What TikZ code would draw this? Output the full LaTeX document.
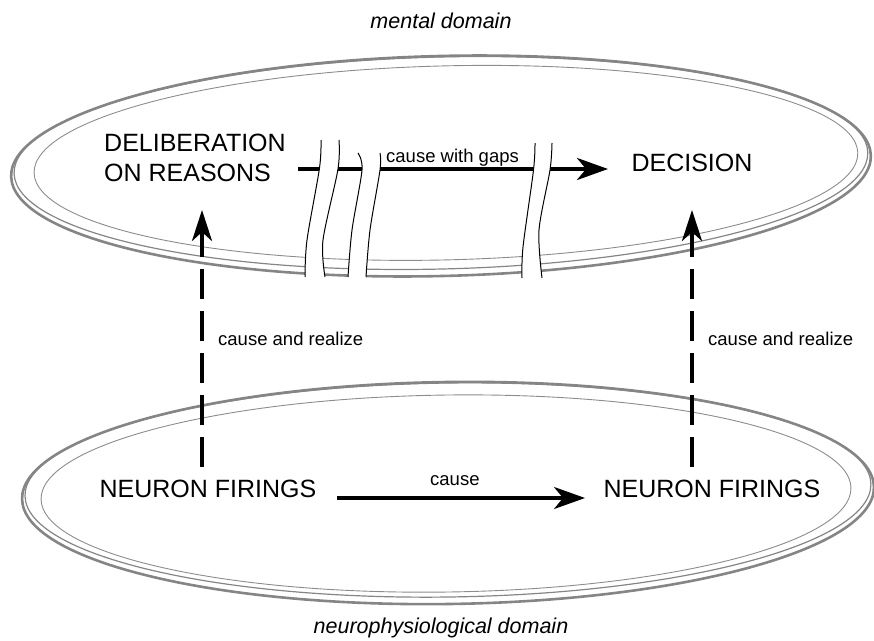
\documentclass[tikz,border=0pt]{standalone}
\usepackage{fontspec}
\setmainfont{Liberation Sans}
\usetikzlibrary{arrows.meta}
\begin{document}
\begin{tikzpicture}[x=1pt,y=1pt,
  outerring/.style={draw=black!48, line width=2.6pt},
  companion/.style={draw=black!48, line width=1.2pt},
  innerring/.style={draw=black!45, line width=0.9pt},
  bigtext/.style={font=\fontsize{25}{29.5}\selectfont, inner sep=0pt},
  smalltext/.style={font=\fontsize{18.5}{22}\selectfont, inner sep=0pt},
  domaintext/.style={font=\fontsize{21.5}{25}\selectfont\itshape, inner sep=0pt},
  causearrow/.style={line width=4pt, -{Stealth[length=31pt,width=22pt,inset=9pt]}},
  thinarrow/.style={line width=3.2pt, -{Stealth[length=31pt,width=22pt,inset=9pt]}},
  realizearrow/.style={line width=4pt, dash pattern=on 30pt off 12pt, -{Stealth[length=31pt,width=20pt,inset=9pt]}},
  gapline/.style={draw=black, line width=1pt},
]
\useasboundingbox (0,0) rectangle (874,-640);

% mental domain ellipse
\begin{scope}[rotate around={1.4:(441,-166)}]
  \draw[outerring] (441,-166) ellipse [x radius=430, y radius=110];
  \draw[companion] (441,-163) ellipse [x radius=427, y radius=106];
  \draw[innerring] (446,-163) ellipse [x radius=412, y radius=97];
\end{scope}

% neurophysiological domain ellipse
\begin{scope}[rotate around={0.8:(448,-493)}]
  \draw[outerring] (448,-493) ellipse [x radius=426, y radius=111];
  \draw[companion] (448,-490) ellipse [x radius=423, y radius=107];
  \draw[innerring] (446,-493.5) ellipse [x radius=405, y radius=98.5];
\end{scope}

% texts
\node[domaintext, anchor=base] (mental) at (441,-28) {mental domain};
\node[domaintext, anchor=base] (neuro) at (441,-633) {neurophysiological domain};
\node[bigtext, anchor=west, align=left] (delib) at (104,-158) {DELIBERATION\\ON REASONS};
\node[bigtext] (decision) at (692,-162.5) {DECISION};
\node[bigtext] (nfl) at (208,-489) {NEURON FIRINGS};
\node[bigtext] (nfr) at (712,-489) {NEURON FIRINGS};

% arrow endpoints
\coordinate (ts) at (298,-169);
\coordinate (te) at (608,-169);
\coordinate (bs) at (337,-498);
\coordinate (be) at (585,-498);
\coordinate (ls) at (202,-467);
\coordinate (le) at (202,-210);
\coordinate (rs) at (692,-467);
\coordinate (re) at (692,-210);

\draw[causearrow] (ts) -- (te);
\draw[thinarrow] (bs) -- (be);
\draw[realizearrow] (ls) -- (le);
\draw[realizearrow] (rs) -- (re);

% gaps
\fill[white] plot[smooth] coordinates {(321,-140) (319.5,-168) (307,-240) (305,-277)}
  -- (305,-283) -- (325,-283) --
  plot[smooth] coordinates {(325,-277) (323,-240) (338,-169) (339,-140)} -- cycle;
\fill[white] plot[smooth] coordinates {(358,-153) (362,-170) (352,-230) (348,-277)}
  -- (348,-283) -- (366,-283) --
  plot[smooth] coordinates {(366,-277) (370,-230) (380,-170) (380,-153)} -- cycle;
\fill[white] plot[smooth] coordinates {(535,-143) (533.5,-170) (523,-247) (522,-278)}
  -- (522,-283) -- (542,-283) --
  plot[smooth] coordinates {(542,-278) (539,-230) (550,-170) (552,-143)} -- cycle;

\draw[gapline] plot[smooth] coordinates {(321,-140) (319.5,-168) (307,-240) (305,-277)};
\draw[gapline] plot[smooth] coordinates {(339,-140) (338,-169) (323,-240) (325,-277)};
\draw[gapline] plot[smooth] coordinates {(358,-153) (362,-170) (352,-230) (348,-277)};
\draw[gapline] plot[smooth] coordinates {(380,-153) (380,-170) (370,-230) (366,-277)};
\draw[gapline] plot[smooth] coordinates {(535,-143) (533.5,-170) (523,-247) (522,-278)};
\draw[gapline] plot[smooth] coordinates {(552,-143) (550,-170) (539,-230) (542,-278)};

% arrow labels
\node[smalltext, anchor=base west] (gaplbl) at (386,-162) {cause with gaps};
\node[smalltext, anchor=base west] (crl) at (218,-345) {cause and realize};
\node[smalltext, anchor=base west] (crr) at (708,-345) {cause and realize};
\node[smalltext, anchor=base west] (clbl) at (430,-485) {cause};
\end{tikzpicture}
\end{document}
